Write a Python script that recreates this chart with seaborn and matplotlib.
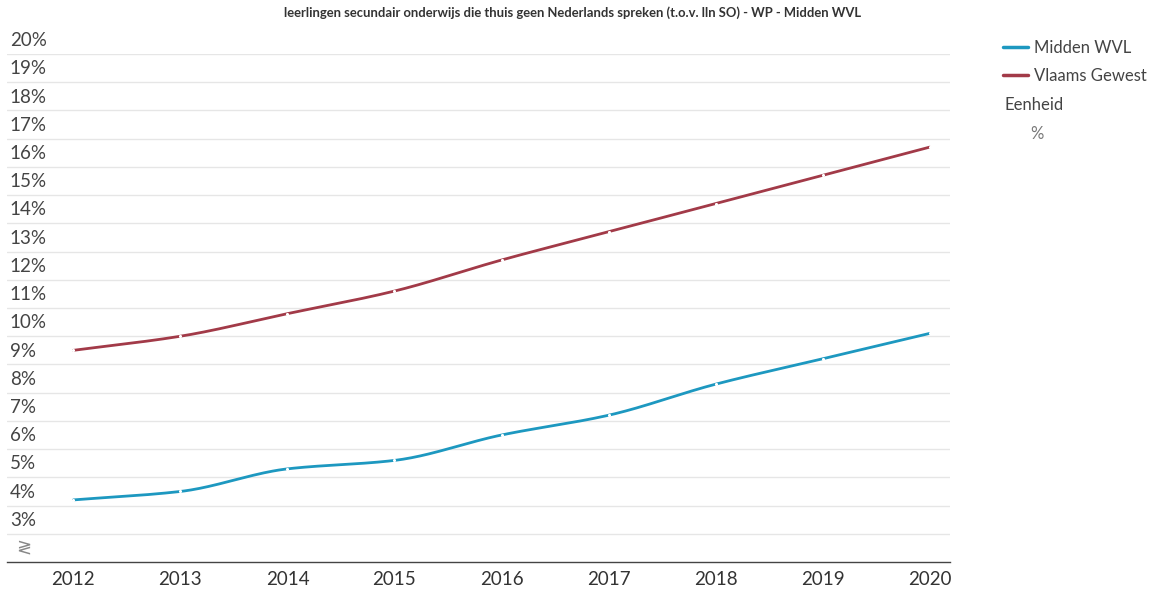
import numpy as np
import pandas as pd
import matplotlib
matplotlib.use("Agg")
import matplotlib.pyplot as plt
import seaborn as sns

years = [2012, 2013, 2014, 2015, 2016, 2017, 2018, 2019, 2020]
midden_wvl = [4.2, 4.5, 5.3, 5.6, 6.5, 7.2, 8.3, 9.2, 10.1]
vlaams_gewest = [9.5, 10.0, 10.8, 11.6, 12.7, 13.7, 14.7, 15.7, 16.7]
series_names = ["Midden WVL", "Vlaams Gewest"]
colors = ["#1d98c0", "#a23a48"]
y_ticks = list(range(3, 21))
title = "leerlingen secundair onderwijs die thuis geen Nederlands spreken (t.o.v. lln SO) - WP - Midden WVL"

sns.set_theme(style="white")
plt.rcParams["font.family"] = ["Lato", "DejaVu Sans"]


def pchip(x, y, xs):
    x = np.asarray(x, float); y = np.asarray(y, float)
    h = np.diff(x); d = np.diff(y) / h
    n = len(x); m = np.zeros(n)
    for k in range(1, n - 1):
        if d[k - 1] * d[k] > 0:
            w1 = 2 * h[k] + h[k - 1]; w2 = h[k] + 2 * h[k - 1]
            m[k] = (w1 + w2) / (w1 / d[k - 1] + w2 / d[k])
    m[0] = d[0]; m[-1] = d[-1]
    idx = np.clip(np.searchsorted(x, xs) - 1, 0, n - 2)
    t = (xs - x[idx]) / h[idx]
    h00 = 2 * t**3 - 3 * t**2 + 1; h10 = t**3 - 2 * t**2 + t
    h01 = -2 * t**3 + 3 * t**2; h11 = t**3 - t**2
    return h00 * y[idx] + h10 * h[idx] * m[idx] + h01 * y[idx + 1] + h11 * h[idx] * m[idx + 1]


xs = np.linspace(years[0], years[-1], 401)
frames = []
for name, vals in zip(series_names, [midden_wvl, vlaams_gewest]):
    frames.append(pd.DataFrame({"year": xs, "value": pchip(years, vals, xs), "series": name}))
dense = pd.concat(frames, ignore_index=True)
pts = pd.DataFrame({"year": years * 2, "value": midden_wvl + vlaams_gewest,
                    "series": [series_names[0]] * len(years) + [series_names[1]] * len(years)})

fig = plt.figure(figsize=(11.52, 5.89), dpi=100)
ax = fig.add_axes([7 / 1152, 1 - 562 / 589, (950 - 7) / 1152, (562 - 54) / 589])

sns.lineplot(data=dense, x="year", y="value", hue="series", palette=colors,
             hue_order=series_names, linewidth=2.0, ax=ax, legend=True, sort=False)
sns.scatterplot(data=pts, x="year", y="value", color="white", s=5, linewidth=0,
                ax=ax, legend=False, zorder=5)

ax.set_xlim(2011.38, 2020.19)
ax.set_ylim(2, 20)
ax.set_yticks(y_ticks)
ax.set_yticklabels([])
ax.tick_params(axis="y", length=0)
ax.grid(axis="y", color="#e6e6e6", linewidth=1)
ax.set_axisbelow(True)
for s in ["top", "right", "left"]:
    ax.spines[s].set_visible(False)
ax.spines["bottom"].set_color("#444444")
ax.spines["bottom"].set_linewidth(1)
ax.set_xticks(years)
ax.set_xticklabels([str(y) for y in years])
ax.tick_params(axis="x", length=0, pad=6.5, labelsize=13.5, labelcolor="#333333")
ax.set_xlabel("")
ax.set_ylabel("")

for v in y_ticks:
    ax.annotate(f"{v}%", xy=(0, v), xycoords=ax.get_yaxis_transform(),
                xytext=(2, 3.5), textcoords="offset points", ha="left", va="bottom",
                fontsize=13.5, color="#444444")
ax.annotate("\u2277", xy=(0, 2.5), xycoords=ax.get_yaxis_transform(),
            xytext=(12, 0), textcoords="offset points", ha="center", va="center",
            fontsize=13, color="#888888", family=["DejaVu Sans"])

ax.set_title(title, fontsize=9.4, fontweight="bold", color="#333333", pad=27, x=0.6)

handles, labels = ax.get_legend_handles_labels()
leg = ax.legend(handles, labels, loc="upper left", bbox_to_anchor=(996 / 1152, 1 - 33 / 589),
                bbox_transform=fig.transFigure, frameon=False, fontsize=12,
                handlelength=1.5, handletextpad=0.4, labelspacing=0.75, borderaxespad=0)
for t in leg.get_texts():
    t.set_color("#444444")
for l in leg.get_lines():
    l.set_linewidth(2.5)
fig.text(1005 / 1152, 1 - 105 / 589, "Eenheid", fontsize=12, color="#444444", va="center", ha="left")
fig.text(1030 / 1152, 1 - 134 / 589, "%", fontsize=12, color="#777777", va="center", ha="left")

fig.savefig("out.png", dpi=100)
